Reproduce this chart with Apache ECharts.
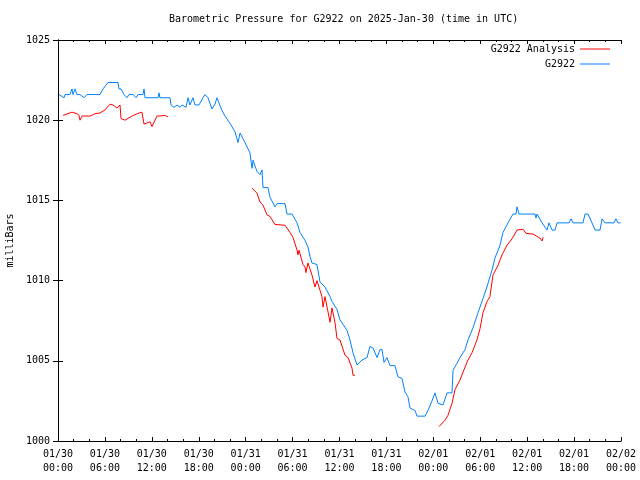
<!DOCTYPE html>
<html>
<head>
<meta charset="utf-8">
<script src="https://cdn.jsdelivr.net/npm/echarts@6/dist/echarts.min.js"></script>
<style>html,body{margin:0;padding:0;background:#fff}#c{width:640px;height:480px}</style>
</head>
<body>
<div id="c"></div>
<script>
// Hours since 2025-01-30 00:00 UTC
var xTickLabels = ['01/30\n00:00','01/30\n06:00','01/30\n12:00','01/30\n18:00','01/31\n00:00','01/31\n06:00','01/31\n12:00','01/31\n18:00','02/01\n00:00','02/01\n06:00','02/01\n12:00','02/01\n18:00','02/02\n00:00'];

var blueHours = [0.13,0.38,0.77,0.90,1.53,1.79,1.92,2.17,2.43,2.81,3.33,3.58,3.71,5.37,5.76,6.39,7.67,7.80,8.06,8.44,8.82,9.08,9.59,9.98,10.23,10.87,11.00,11.13,12.79,12.92,13.04,14.32,14.45,14.84,15.22,15.60,15.86,16.37,16.63,16.88,17.26,17.52,18.03,18.54,18.80,19.18,19.69,20.08,20.33,20.72,20.97,21.36,22.00,22.64,23.02,23.28,23.53,23.92,24.55,24.81,24.94,25.45,25.83,26.09,26.22,26.86,27.11,27.75,28.01,29.03,29.29,29.93,30.57,30.95,31.59,31.97,32.23,32.48,33.12,33.51,34.15,34.79,35.04,35.68,36.06,36.96,37.34,37.73,38.24,38.88,39.52,39.90,40.28,40.80,41.18,41.44,41.69,42.07,42.46,43.10,43.48,43.99,44.38,44.76,45.02,45.66,45.91,46.94,47.32,47.83,48.21,48.60,49.24,49.75,50.39,50.52,51.03,51.41,52.05,52.43,53.07,53.71,54.22,54.85,55.50,55.88,56.52,56.91,57.55,58.19,58.57,58.70,58.95,59.34,61.00,61.13,61.26,61.90,62.54,62.79,63.18,63.56,63.82,65.35,65.61,65.86,67.14,67.40,67.78,68.29,68.68,69.32,69.58,69.96,71.10,71.36,71.62,71.95];
var blueValues = [1021.6,1021.6,1021.4,1021.6,1021.6,1021.95,1021.6,1021.95,1021.6,1021.6,1021.4,1021.4,1021.6,1021.6,1021.95,1022.35,1022.35,1021.95,1021.95,1021.6,1021.4,1021.6,1021.6,1021.4,1021.6,1021.6,1021.95,1021.4,1021.4,1021.7,1021.4,1021.4,1020.95,1020.8,1020.95,1020.8,1020.95,1020.8,1021.4,1020.95,1021.4,1020.95,1020.95,1021.4,1021.6,1021.4,1020.7,1021.0,1021.4,1020.9,1020.6,1020.26,1019.8,1019.27,1018.6,1019.2,1019.2,1018.6,1017.96,1017.0,1017.5,1016.8,1016.6,1016.9,1015.8,1015.8,1015.2,1014.6,1014.8,1014.8,1014.15,1014.15,1013.6,1013.0,1012.5,1012.1,1011.5,1011.1,1011.0,1009.9,1009.6,1009.0,1008.7,1008.2,1007.55,1006.9,1006.3,1005.5,1004.74,1005.05,1005.2,1005.9,1005.8,1005.2,1005.7,1005.7,1004.9,1005.2,1004.7,1004.7,1004.0,1003.9,1003.05,1002.75,1002.05,1001.9,1001.55,1001.55,1001.9,1002.5,1003.0,1002.35,1002.25,1003.0,1003.0,1004.4,1004.85,1005.2,1005.7,1006.3,1007.05,1008.0,1008.7,1009.6,1010.65,1011.4,1012.2,1013.0,1013.6,1014.15,1014.15,1014.6,1014.15,1014.15,1014.15,1013.9,1014.15,1013.6,1013.15,1013.6,1013.15,1013.15,1013.6,1013.6,1013.85,1013.6,1013.6,1014.15,1014.15,1013.6,1013.15,1013.15,1013.85,1013.6,1013.6,1013.85,1013.6,1013.6];

var redHours = [0.64,1.79,2.43,2.69,2.81,3.07,4.09,4.73,5.37,6.01,6.65,7.03,7.55,7.93,8.06,8.57,9.46,10.10,10.74,11.00,11.77,12.02,12.66,13.04,13.68,14.07,
  19.0,
  24.81,24.94,25.45,25.83,26.22,26.73,27.11,27.75,29.03,29.67,30.05,30.57,30.69,30.82,31.33,31.59,31.71,31.97,32.48,32.87,33.12,33.76,33.89,34.15,34.53,34.79,35.04,35.42,35.68,36.06,36.70,37.09,37.60,37.73,37.98,
  43.0,
  48.73,48.98,49.49,49.87,50.39,50.77,51.41,51.80,52.43,52.95,53.58,53.97,54.35,54.87,55.24,55.63,56.27,56.78,57.42,58.06,58.70,59.47,59.85,60.75,61.64,61.90,62.03];
var redValues = [1020.3,1020.5,1020.4,1020.3,1020.0,1020.26,1020.26,1020.4,1020.45,1020.64,1021.0,1020.95,1020.76,1020.95,1020.1,1020.0,1020.26,1020.4,1020.5,1019.76,1019.9,1019.6,1020.26,1020.26,1020.3,1020.2,
  null,
  1015.77,1015.85,1015.45,1014.9,1014.7,1014.1,1014.0,1013.5,1013.45,1013.0,1012.7,1011.9,1011.6,1011.9,1011.0,1010.85,1010.5,1011.1,1010.35,1009.6,1010.0,1009.0,1008.35,1009.0,1008.05,1007.4,1008.3,1007.4,1006.4,1006.3,1005.35,1005.2,1004.55,1004.1,1004.1,
  null,
  1000.9,1000.95,1001.3,1001.6,1002.35,1003.2,1003.8,1004.3,1005.05,1005.5,1006.3,1007.0,1008.0,1008.7,1009.0,1010.35,1010.95,1011.6,1012.2,1012.6,1013.15,1013.2,1012.95,1012.9,1012.65,1012.47,1012.7];

function zip(a, b) { return a.map(function (v, i) { return [v, b[i]]; }); }

var FONT = 'DejaVu Sans Mono';
var chart = echarts.init(document.getElementById('c'), null, {renderer: 'canvas'});
var axisLine = {show: true, lineStyle: {color: '#000', width: 1}};
chart.setOption({
  animation: false,
  backgroundColor: '#fff',
  textStyle: {fontFamily: FONT, fontSize: 10, color: '#000'},
  title: {
    text: 'Barometric Pressure for G2922 on 2025-Jan-30 (time in UTC)',
    left: 164, top: 9,
    textStyle: {fontFamily: FONT, fontSize: 10, fontWeight: 'normal', color: '#000'}
  },
  legend: [
    {data: ['G2922 Analysis'], right: 25, top: 39, itemWidth: 30, itemHeight: 1, icon: 'rect', align: 'right', itemGap: 4,
     textStyle: {fontFamily: FONT, fontSize: 10, color: '#000'}},
    {data: ['G2922'], right: 25, top: 54, itemWidth: 30, itemHeight: 1, icon: 'rect', align: 'right', itemGap: 4,
     textStyle: {fontFamily: FONT, fontSize: 10, color: '#000'}}
  ],
  grid: {left: 58, right: 19, top: 40, bottom: 39, containLabel: false, outerBoundsMode: 'none'},
  xAxis: [
    {type: 'value', min: 0, max: 72, interval: 6, position: 'bottom',
     axisLine: axisLine,
     axisTick: {show: true, inside: true, length: 4, lineStyle: {color: '#000'}},
     minorTick: {show: true, splitNumber: 3, length: 2, lineStyle: {color: '#000'}},
     splitLine: {show: false},
     axisLabel: {margin: 6, fontFamily: FONT, fontSize: 10, color: '#000', lineHeight: 14,
       formatter: function (v) { return xTickLabels[Math.round(v / 6)]; }}},
    {type: 'value', min: 0, max: 72, interval: 6, position: 'top',
     axisLine: axisLine,
     axisTick: {show: true, inside: true, length: 4, lineStyle: {color: '#000'}},
     minorTick: {show: true, splitNumber: 3, length: 2, lineStyle: {color: '#000'}},
     splitLine: {show: false}, axisLabel: {show: false}}
  ],
  yAxis: [
    {type: 'value', min: 1000, max: 1025, interval: 5, position: 'left',
     name: 'milliBars', nameLocation: 'middle', nameGap: 39, nameRotate: 90,
     nameTextStyle: {fontFamily: FONT, fontSize: 10, color: '#000'},
     axisLine: axisLine,
     axisTick: {show: true, inside: true, length: 5, lineStyle: {color: '#000'}},
     splitLine: {show: false},
     axisLabel: {margin: 8, fontFamily: FONT, fontSize: 10, color: '#000',
       formatter: function (v) { return String(v); }}},
    {type: 'value', min: 1000, max: 1025, interval: 5, position: 'right',
     axisLine: axisLine,
     axisTick: {show: true, inside: true, length: 5, lineStyle: {color: '#000'}},
     splitLine: {show: false}, axisLabel: {show: false}}
  ],
  series: [
    {name: 'G2922 Analysis', type: 'line', data: zip(redHours, redValues), symbol: 'none',
     connectNulls: false, color: '#ff0000', lineStyle: {width: 1, color: '#ff0000'}, z: 3},
    {name: 'G2922', type: 'line', data: zip(blueHours, blueValues), symbol: 'none',
     color: '#0080ff', lineStyle: {width: 1, color: '#0080ff'}, z: 2}
  ]
});
</script>
</body>
</html>
